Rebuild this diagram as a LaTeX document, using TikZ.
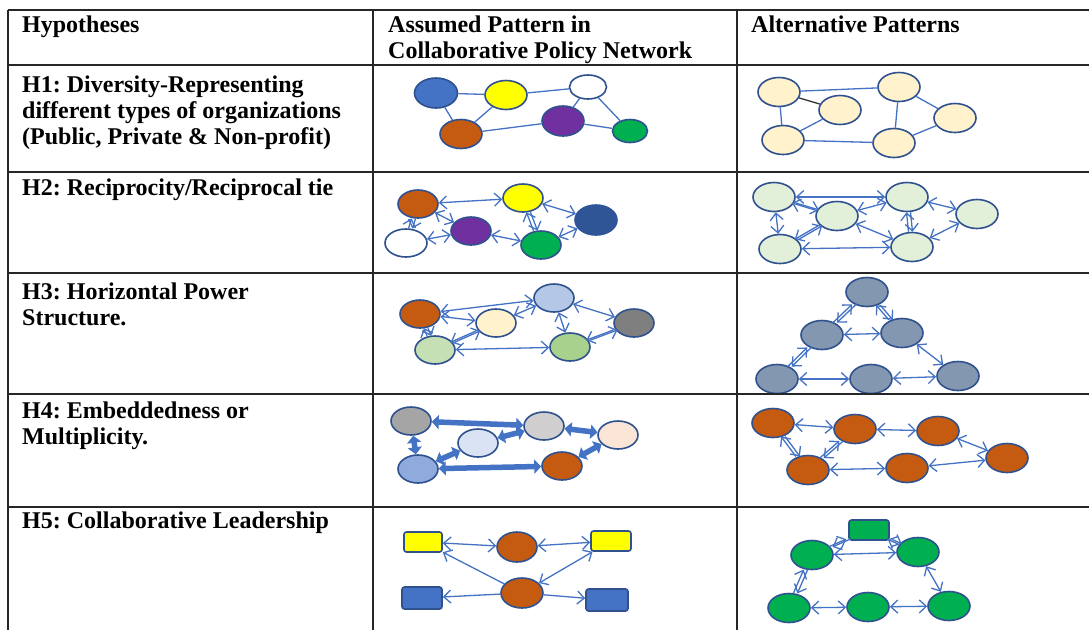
\documentclass[tikz,border=0pt]{standalone}
\usepackage{fontspec}
\setmainfont{Liberation Serif}
\frenchspacing
\usetikzlibrary{shapes.geometric,arrows.meta}
\definecolor{lnb}{HTML}{4472C4}
\definecolor{ndb}{HTML}{2F528F}
\definecolor{cBlue}{HTML}{4472C4}
\definecolor{cYel}{HTML}{FFFF00}
\definecolor{cOra}{HTML}{C55A11}
\definecolor{cPur}{HTML}{7030A0}
\definecolor{cGrn}{HTML}{00B050}
\definecolor{cCream}{HTML}{FFF2CC}
\definecolor{cNavy}{HTML}{2F5597}
\definecolor{cPaleGrn}{HTML}{E2F0D9}
\definecolor{cLtBlue}{HTML}{B4C7E7}
\definecolor{cGray}{HTML}{7F7F7F}
\definecolor{cLtGrn}{HTML}{C5E0B4}
\definecolor{cMidGrn}{HTML}{A9D18E}
\definecolor{cSlate}{HTML}{8497B0}
\definecolor{cG1}{HTML}{A5A5A5}
\definecolor{cG2}{HTML}{D0CECE}
\definecolor{cB1}{HTML}{DAE3F3}
\definecolor{cPeach}{HTML}{FBE5D6}
\definecolor{cB2}{HTML}{8FAADC}
\newcommand\twoway[2]{%
  \draw[ar,transform canvas={xshift=2pt}] (#1) -- (#2);
  \draw[ar,transform canvas={xshift=-2pt}] (#2) -- (#1);}
\begin{document}
\begin{tikzpicture}[x=1pt,y=-1pt,
  nd/.style={ellipse,draw=ndb,line width=1.6pt,minimum width=42pt,minimum height=29pt,inner sep=0pt},
  rb/.style={rectangle,rounded corners=2.5pt,draw=ndb,line width=1.6pt,minimum width=40pt,minimum height=20pt,inner sep=0pt},
  ln/.style={draw=lnb,line width=1.3pt},
  bi/.style={ln,{Straight Barb[length=7pt,width=13pt]}-{Straight Barb[length=7pt,width=13pt]}},
  ar/.style={ln,-{Straight Barb[length=7pt,width=13pt]}},
  thk/.style={draw=lnb,line width=5.5pt,{Triangle[length=7pt,width=14pt]}-{Triangle[length=7pt,width=14pt]}},
  tbl/.style={draw=black!85,line width=1.8pt},
  txt/.style={anchor=base west,align=left,inner sep=0pt,font=\fontsize{24}{26}\selectfont\bfseries}]
\useasboundingbox[fill=white] (0,0) rectangle (1089,630);

% ---------- texts (anchor = baseline of last line)
\node[txt] (t0) at (22,32) {Hypotheses};
\node[txt] (t1) at (388,58) {Assumed Pattern in\\Collaborative Policy Network};
\node[txt] (t2) at (751,32) {Alternative Patterns};
\node[txt] (hyp1) at (22,144) {H1: Diversity-Representing\\different types of organizations\\(Public, Private \& Non-profit)};
\node[txt] (hyp2) at (22,195) {H2: Reciprocity/Reciprocal tie};
\node[txt] (hyp3) at (22,325) {H3: Horizontal Power\\Structure.};
\node[txt] (hyp4) at (22,444) {H4: Embeddedness or\\Multiplicity.};
\node[txt] (hyp5) at (22,528) {H5: Collaborative Leadership};

% ---------- cell 1
\node[nd,fill=cBlue,minimum width=43pt,minimum height=30pt] (a1) at (436,93) {};
\node[nd,fill=cYel] (a2) at (506,95) {};
\node[nd,fill=white,minimum width=37pt,minimum height=24pt] (a3) at (588,87) {};
\node[nd,fill=cOra] (a4) at (461,134) {};
\node[nd,fill=cPur,minimum height=30pt] (a5) at (563,121) {};
\node[nd,fill=cGrn,minimum width=35pt,minimum height=23pt] (a6) at (630,131) {};
\draw[ln] (a1)--(a2) (a1)--(a4) (a2)--(a4) (a2)--(a3) (a4)--(a5) (a3)--(a5) (a3)--(a6) (a5)--(a6);

% ---------- cell 2
\foreach \n/\p in {b1/{(779,92)},b2/{(840,110)},b3/{(783,140)},b4/{(899,87)},b5/{(955,118)},b6/{(894,143)}}
  \node[nd,fill=cCream] (\n) at \p {};
\draw[line width=1.3pt,black!80] (b1)--(b2);
\draw[ln] (b1)--(b3) (b2)--(b3) (b1)--(b4) (b3)--(b6) (b4)--(b6) (b4)--(b5) (b5)--(b6);

% ---------- cell 3
\node[nd,fill=cOra,minimum width=40pt,minimum height=28pt] (c1) at (418,204) {};
\node[nd,fill=cYel,minimum width=40pt,minimum height=28pt] (c2) at (523,198) {};
\node[nd,fill=cNavy,draw=cNavy,minimum height=30pt] (c3) at (596,220) {};
\node[nd,fill=cPur,minimum width=40pt,minimum height=28pt] (c4) at (471,231) {};
\node[nd,fill=white,minimum height=28pt] (c5) at (406,243) {};
\node[nd,fill=cGrn,minimum width=40pt,minimum height=28pt] (c6) at (541,245) {};
\draw[bi] (c1)--(c2);
\draw[bi] (c1)--(c4);
\twoway{c1}{c5}
\draw[bi] (c4)--(c5);
\draw[bi] (c4)--(c6);
\twoway{c2}{c6}
\draw[bi] (c2)--(c3);
\draw[bi] (c3)--(c6);

% ---------- cell 4
\foreach \n/\p in {d1/{(774,197)},d2/{(837,216)},d3/{(780,249)},d4/{(907,197)},d5/{(977,214)},d6/{(912,247)}}
  \node[nd,fill=cPaleGrn] (\n) at \p {};
\draw[bi] (d1)--(d4);
\twoway{d1}{d2}
\draw[bi] (d1)--(d3);
\twoway{d3}{d2}
\draw[bi] (d3)--(d6);
\draw[bi] (d2)--(d4);
\draw[bi] (d2)--(d6);
\twoway{d4}{d6}
\draw[bi] (d4)--(d5);
\draw[bi] (d6)--(d5);

% ---------- cell 5
\node[nd,fill=cOra,minimum width=40pt,minimum height=28pt] (e1) at (420,314) {};
\node[nd,fill=cLtBlue,minimum width=40pt,minimum height=28pt] (e2) at (554,298) {};
\node[nd,fill=cCream,minimum width=40pt,minimum height=28pt] (e3) at (496,323) {};
\node[nd,fill=cGray,minimum width=40pt,minimum height=28pt] (e4) at (634,323) {};
\node[nd,fill=cLtGrn,minimum width=40pt,minimum height=28pt] (e5) at (435,350) {};
\node[nd,fill=cMidGrn,minimum width=40pt,minimum height=28pt] (e6) at (570,347) {};
\draw[bi] (e1)--(e2);
\draw[bi] (e1)--(e3);
\twoway{e1}{e5}
\twoway{e5}{e3}
\draw[bi] (e3)--(e2);
\draw[bi] (e2)--(e4);
\draw[bi] (e2)--(e6);
\twoway{e6}{e4}
\draw[bi] (e5)--(e6);

% ---------- cell 6
\foreach \n/\p in {f1/{(867,292)},f2/{(822,335)},f3/{(902,333)},f4/{(777,379)},f5/{(871,379)},f6/{(958,376)}}
  \node[nd,fill=cSlate] (\n) at \p {};
\twoway{f1}{f2}
\twoway{f1}{f3}
\draw[bi] (f3)--(f2);
\twoway{f2}{f4}
\draw[bi] (f4)--(f5);
\draw[bi] (f5)--(f6);
\draw[bi] (f6)--(f3);

% ---------- cell 7
\node[nd,fill=cG1,minimum width=40pt,minimum height=28pt] (g1) at (411,421) {};
\node[nd,fill=cG2,minimum width=40pt,minimum height=28pt] (g2) at (544,426) {};
\node[nd,fill=cB1,minimum width=40pt,minimum height=28pt] (g3) at (478,443) {};
\node[nd,fill=cPeach,minimum width=40pt,minimum height=28pt] (g4) at (618,435) {};
\node[nd,fill=cB2,minimum width=40pt,minimum height=28pt] (g5) at (418,469) {};
\node[nd,fill=cOra,minimum width=40pt,minimum height=28pt] (g6) at (562,466) {};
\draw[thk] (g1)--(g2);
\draw[thk] (g1)--(g5);
\draw[thk] (g2)--(g3);
\draw[thk] (g3)--(g5);
\draw[thk] (g2)--(g4);
\draw[thk] (g4)--(g6);
\draw[thk] (g5)--(g6);

% ---------- cell 8
\foreach \n/\p in {k1/{(773,423)},k2/{(855,429)},k3/{(938,431)},k4/{(1007,458)},k5/{(808,470)},k6/{(907,468)}}
  \node[nd,fill=cOra] (\n) at \p {};
\draw[bi] (k1)--(k2);
\twoway{k1}{k5}
\twoway{k2}{k5}
\draw[bi] (k2)--(k3);
\draw[bi] (k3)--(k4);
\draw[bi] (k4)--(k6);
\draw[bi] (k5)--(k6);

% ---------- cell 9
\node[rb,fill=cYel,minimum width=38pt] (m1) at (423,542) {};
\node[nd,fill=cOra,minimum width=40pt,minimum height=30pt] (m2) at (517,547) {};
\node[rb,fill=cYel] (m3) at (611,541) {};
\node[rb,fill=cBlue,minimum height=22pt] (m4) at (422,598) {};
\node[nd,fill=cOra,minimum height=30pt] (m5) at (522,593) {};
\node[rb,fill=cBlue,minimum width=42pt,minimum height=22pt] (m6) at (607,600) {};
\draw[bi] (m1)--(m2);
\draw[bi] (m2)--(m3);
\draw[bi] (m3)--(m5);
\draw[ar] (m5)--(m1);
\draw[ar] (m5)--(m4);
\draw[ar] (m5)--(m6);

% ---------- cell 10
\node[rb,fill=cGrn] (n1) at (869,530) {};
\foreach \n/\p in {n2/{(812,555)},n3/{(918,552)},n4/{(789,608)},n5/{(868,607)},n6/{(949,606)}}
  \node[nd,fill=cGrn] (\n) at \p {};
\twoway{n1}{n2}
\twoway{n1}{n3}
\draw[bi] (n2)--(n3);
\twoway{n2}{n4}
\draw[bi] (n4)--(n5);
\draw[bi] (n5)--(n6);
\draw[bi] (n6)--(n3);

% ---------- table rules
\draw[tbl] (8,10)--(1089,10);
\foreach \y in {65,172,273,394,507} \draw[tbl] (8,\y)--(1089,\y);
\foreach \x in {8,373,737} \draw[tbl] (\x,10)--(\x,630);
\end{tikzpicture}
\end{document}
